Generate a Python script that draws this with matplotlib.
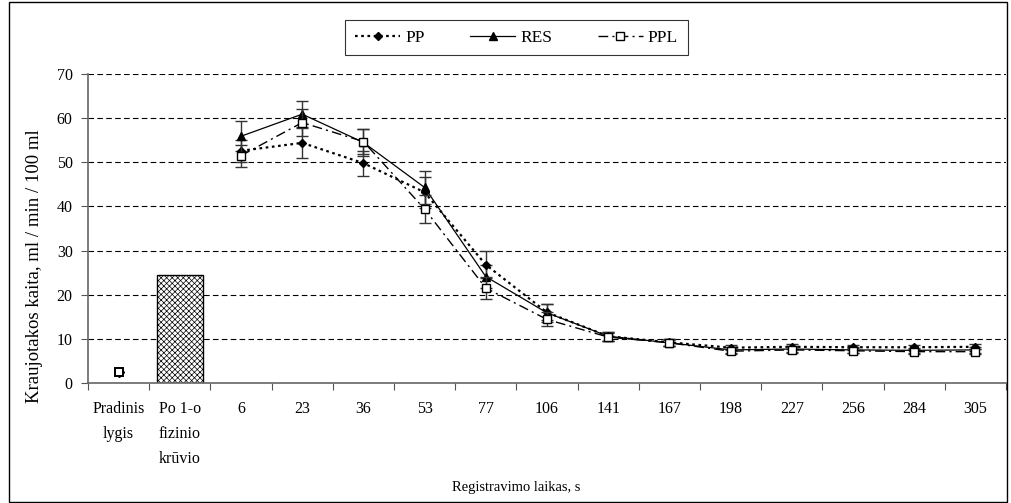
import numpy as np
import matplotlib
matplotlib.use("Agg")
import matplotlib.pyplot as plt
from matplotlib.patches import Rectangle
from matplotlib.lines import Line2D

plt.rcParams["font.family"] = ["Liberation Serif", "DejaVu Serif"]
plt.rcParams["hatch.linewidth"] = 0.5

categories = ["Pradinis\nlygis", "Po 1-o\nfizinio\nkrūvio", "6", "23", "36", "53", "77",
              "106", "141", "167", "198", "227", "256", "284", "305"]

# values at 6..305 s
pp = [52.6, 54.4, 49.8, 43.2, 26.8, 16.0, 10.6, 9.2, 8.0, 8.2, 8.1, 8.1, 8.2]
res = [55.9, 60.9, 54.5, 44.3, 24.1, 15.9, 10.6, 9.1, 7.5, 7.7, 7.5, 7.4, 7.5]
ppl = [51.5, 59.0, 54.7, 39.4, 21.5, 14.4, 10.4, 9.1, 7.2, 7.5, 7.3, 7.1, 7.1]

pp_err = [2.5, 3.4, 2.8, 3.5, 3.0, 1.8, 1.0, 0.8, 0.6, 0.6, 0.6, 0.6, 0.6]
res_err = [3.4, 3.0, 3.0, 3.8, 2.6, 2.0, 1.0, 0.8, 0.6, 0.6, 0.6, 0.6, 0.6]
ppl_err = [2.5, 3.0, 2.9, 3.2, 2.4, 1.6, 0.9, 0.7, 0.6, 0.6, 0.6, 0.6, 0.6]

baseline = 2.6      # Pradinis lygis
after_load = 24.4   # Po 1-o fizinio kruvio (bar)

pp_style = dict(color="black", linestyle=(0, (1.2, 1.6)), linewidth=1.6,
                marker="D", markersize=4.5, markerfacecolor="black")
res_style = dict(color="black", linestyle="-", linewidth=0.9,
                 marker="^", markersize=6, markerfacecolor="black")
ppl_style = dict(color="black", linestyle=(0, (7, 3, 1.5, 3)), linewidth=1.0,
                 marker="s", markersize=5.5, markerfacecolor="white", markeredgewidth=1.0)
err_style = dict(ecolor="#333333", elinewidth=1.0, capsize=4, capthick=1.0)

fig = plt.figure(figsize=(10.11, 5.03), dpi=100)
ax = fig.add_axes([88 / 1011, 1 - 383 / 503, (1006 - 88) / 1011, (383 - 74) / 503])

x = np.arange(len(categories))
xs = x[2:]

ax.bar(x[1], after_load, width=0.76, color="white", edgecolor="black",
       hatch="xxxxxx", linewidth=1.0, zorder=2)

ax.errorbar(xs, pp, yerr=pp_err, zorder=3, **pp_style, **err_style)
ax.errorbar(xs, res, yerr=res_err, zorder=3, **res_style, **err_style)
ax.errorbar(xs, ppl, yerr=ppl_err, zorder=4, **ppl_style, **err_style)

ax.plot(x[0], baseline, marker="D", markersize=5, color="black", linestyle="none", zorder=3)
ax.plot(x[0], baseline, marker="s", markersize=6, markerfacecolor="white",
        markeredgecolor="black", markeredgewidth=1.4, linestyle="none", zorder=4)

ax.set_xlim(-0.5, len(categories) - 0.5)
ax.set_ylim(0, 70)
ax.set_yticks(np.arange(0, 71, 10))
ax.yaxis.grid(True, linestyle=(0, (5, 3)), color="black", linewidth=0.8)
ax.set_axisbelow(True)

ax.set_xticks(np.arange(-0.5, len(categories), 1.0))
ax.set_xticklabels([])
ax.set_xticks(x, minor=True)
ax.set_xticklabels(categories, minor=True, fontsize=11.5, linespacing=1.75, va="top")
ax.tick_params(axis="x", which="minor", length=0, pad=13)
ax.tick_params(axis="x", which="major", length=5, direction="out", color="#555555")
ax.tick_params(axis="y", length=5, direction="out", color="#555555", labelsize=11.5, pad=6)

for side in ["top", "right"]:
    ax.spines[side].set_visible(False)
for side in ["left", "bottom"]:
    ax.spines[side].set_color("#666666")
    ax.spines[side].set_linewidth(1.2)

handles = [Line2D([], [], **pp_style), Line2D([], [], **res_style), Line2D([], [], **ppl_style)]
leg = ax.legend(handles, ["PP", "RES", "PPL"], loc="center",
                bbox_to_anchor=(516.5 / 1011, 1 - 37.5 / 503),
                bbox_transform=fig.transFigure, ncol=3, fontsize=12.5,
                frameon=True, fancybox=False, edgecolor="black", handlelength=2.6,
                handletextpad=0.3, columnspacing=2.6, borderpad=0.55)
leg.get_frame().set_linewidth(0.8)

fig.text(35 / 1011, 1 - 266 / 503, "Kraujotakos kaita, ml / min / 100 ml",
         rotation=90, ha="center", va="center", fontsize=13.5)
fig.text(516 / 1011, 1 - 488 / 503, "Registravimo laikas, s",
         ha="center", va="center", fontsize=10.5)

fig.patches.append(Rectangle((9 / 1011, 1 / 503), 998 / 1011, 500 / 503,
                             transform=fig.transFigure, fill=False,
                             edgecolor="black", linewidth=1.0))

fig.savefig("out.png", dpi=100)
